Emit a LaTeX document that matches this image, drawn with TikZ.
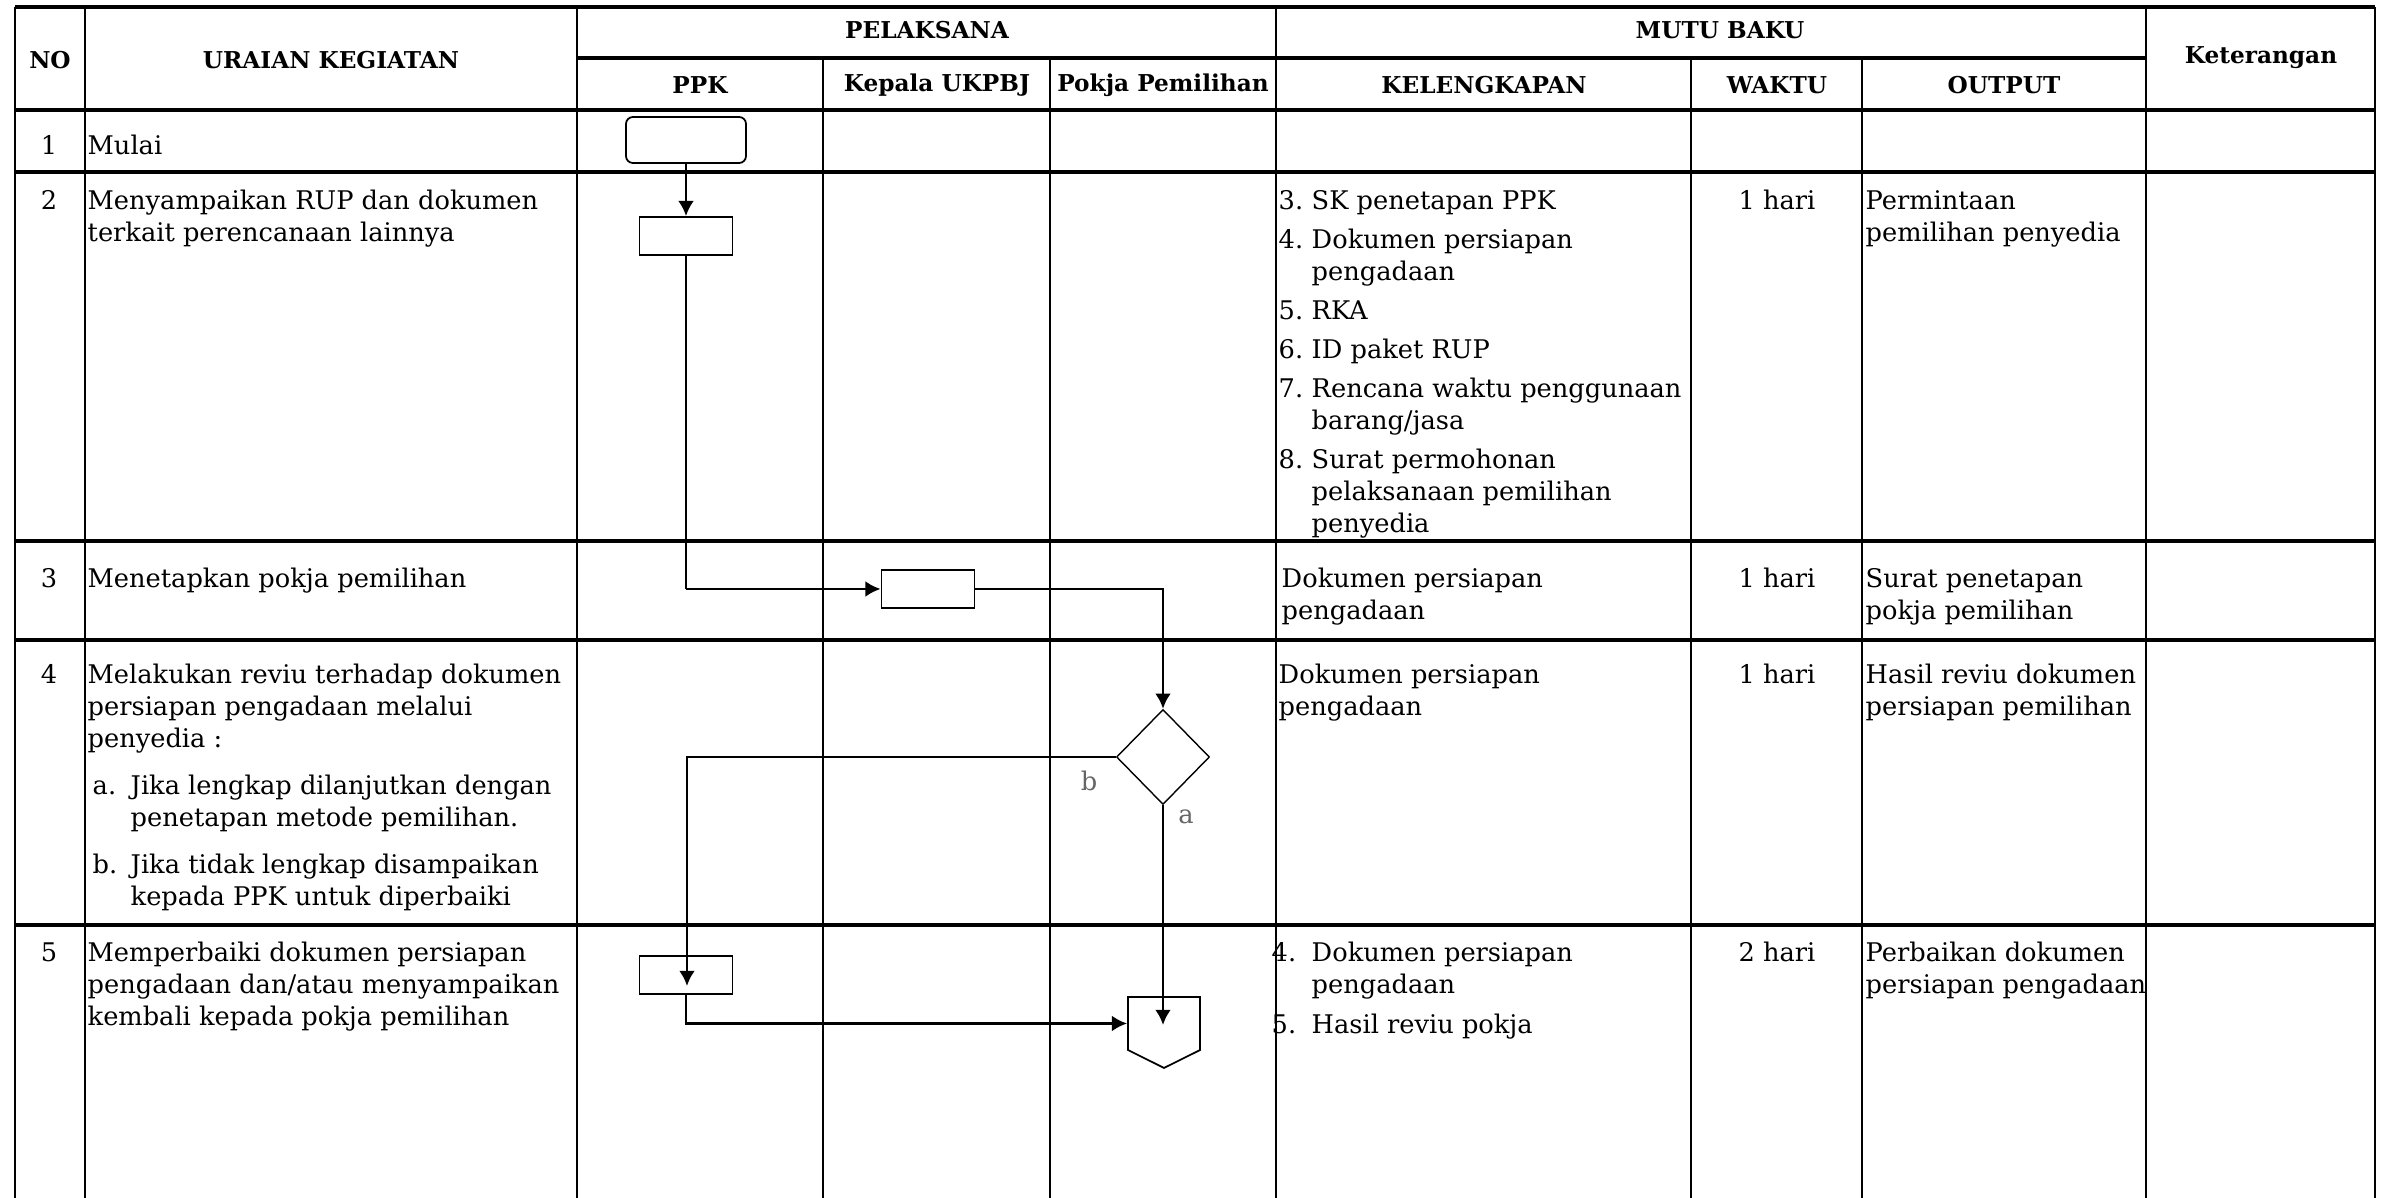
\documentclass[tikz,border=0pt]{standalone}
\usepackage{fontspec}
\setmainfont{DejaVu Serif}
\usetikzlibrary{shapes.geometric, shapes.symbols, arrows.meta}
\newcommand{\bodyfont}{\fontsize{7.3}{9.1}\selectfont}
\newcommand{\headfont}{\fontsize{6.6}{8}\selectfont\bfseries}
\newcommand{\numbox}[2][0.33cm]{\makebox[#1][l]{#2}}
\tikzstyle{cell} = [anchor=north west, inner sep=0pt, align=left, font=\bodyfont]
\tikzstyle{cellc} = [anchor=north, inner sep=0pt, align=center, font=\bodyfont]
\tikzstyle{headcell} = [inner sep=0pt, font=\headfont]
\tikzstyle{terminal} = [rectangle, rounded corners=0.7mm, minimum width=1.2cm, minimum height=0.46cm, draw=black, line width=0.5pt]
\tikzstyle{process} = [rectangle, minimum width=0.93cm, minimum height=0.38cm, draw=black, line width=0.5pt]
\tikzstyle{decision} = [diamond, minimum width=0.93cm, minimum height=0.95cm, inner sep=0pt, draw=black, line width=0.4pt]
\tikzstyle{offpage} = [signal, signal to=south, signal pointer angle=127, minimum width=0.72cm, minimum height=0.53cm, inner sep=0pt, draw=black, line width=0.5pt]
\tikzstyle{branch} = [inner sep=0pt, font=\bodyfont, text=black!60]
\tikzstyle{arrow} = [line width=0.8pt, -{Latex[length=4.3pt,width=4.5pt]}]
\tikzstyle{flowline} = [line width=0.45pt]
\tikzstyle{rowline} = [line width=0.9pt]
\tikzstyle{colline} = [line width=0.55pt]
\begin{document}
\begin{tikzpicture}[x=0.01cm, y=-0.01cm]
\useasboundingbox (0,0) rectangle (2390,1198);
% kepala tabel
\node (hno) [headcell] at (50,60) {NO};
\node (hurai) [headcell] at (331,60) {URAIAN KEGIATAN};
\node (hpel) [headcell] at (927,30) {PELAKSANA};
\node (hppk) [headcell] at (700,85) {PPK};
\node (hkep) [headcell] at (937,85) {Kepala UKPBJ};
\node (hpokja) [headcell] at (1163,85) {Pokja Pemilihan};
\node (hmutu) [headcell] at (1720,30) {MUTU BAKU};
\node (hkel) [headcell] at (1484,85) {KELENGKAPAN};
\node (hwaktu) [headcell] at (1777,85) {WAKTU};
\node (hout) [headcell] at (2004,85) {OUTPUT};
\node (hket) [headcell] at (2261,58) {Keterangan};

% isi baris
\node (n1) [cellc] at (49,131) {\strut 1};
\node (n2) [cellc] at (49,186) {\strut 2};
\node (n3) [cellc] at (49,564) {\strut 3};
\node (n4) [cellc] at (49,660) {\strut 4};
\node (n5) [cellc] at (49,938) {\strut 5};

\node (u1) [cell] at (87,131) {\strut Mulai};
\node (u2) [cell] at (87,186) {\strut Menyampaikan RUP dan dokumen\\terkait perencanaan lainnya};
\node (u3) [cell] at (87,564) {\strut Menetapkan pokja pemilihan};
\node (u4) [cell] at (87,660) {\strut Melakukan reviu terhadap dokumen\\persiapan pengadaan melalui\\penyedia :\\[4.3pt]\hspace*{0.05cm}\numbox[0.38cm]{a.}Jika lengkap dilanjutkan dengan\\\hspace*{0.43cm}penetapan metode pemilihan.\\[4.3pt]\hspace*{0.05cm}\numbox[0.38cm]{b.}Jika tidak lengkap disampaikan\\\hspace*{0.43cm}kepada PPK untuk diperbaiki};
\node (u5) [cell] at (87,938) {\strut Memperbaiki dokumen persiapan\\pengadaan dan/atau menyampaikan\\kembali kepada pokja pemilihan};

\node (k2) [cell] at (1278,186) {\strut\numbox{3.}SK penetapan PPK\\[2pt]\numbox{4.}Dokumen persiapan\\\hspace*{0.33cm}pengadaan\\[2pt]\numbox{5.}RKA\\[2pt]\numbox{6.}ID paket RUP\\[2pt]\numbox{7.}Rencana waktu penggunaan\\\hspace*{0.33cm}barang/jasa\\[2pt]\numbox{8.}Surat permohonan\\\hspace*{0.33cm}pelaksanaan pemilihan\\\hspace*{0.33cm}penyedia};
\node (k3) [cell] at (1281,564) {\strut Dokumen persiapan\\pengadaan};
\node (k4) [cell] at (1278,660) {\strut Dokumen persiapan\\pengadaan};
\node (k5) [cell] at (1271,938) {\strut\numbox[0.4cm]{4.}Dokumen persiapan\\\hspace*{0.4cm}pengadaan\\[2.3pt]\numbox[0.4cm]{5.}Hasil reviu pokja};

\node (w2) [cellc] at (1777,186) {\strut 1 hari};
\node (w3) [cellc] at (1777,564) {\strut 1 hari};
\node (w4) [cellc] at (1777,660) {\strut 1 hari};
\node (w5) [cellc] at (1777,938) {\strut 2 hari};

\node (o2) [cell] at (1865,186) {\strut Permintaan\\pemilihan penyedia};
\node (o3) [cell] at (1865,564) {\strut Surat penetapan\\pokja pemilihan};
\node (o4) [cell] at (1865,660) {\strut Hasil reviu dokumen\\persiapan pemilihan};
\node (o5) [cell] at (1865,938) {\strut Perbaikan dokumen\\persiapan pengadaan};

% garis tabel
\draw [rowline] (15,7) -- (2375,7) (577,58) -- (2146,58) (15,110) -- (2375,110) (15,172) -- (2375,172)
  (15,541) -- (2375,541) (15,640) -- (2375,640) (15,925) -- (2375,925);
\draw [colline] (15,7) -- (15,1198) (85,7) -- (85,1198) (577,7) -- (577,1198) (1276,7) -- (1276,1198)
  (2146,7) -- (2146,1198) (2375,7) -- (2375,1198);
\draw [colline] (823,58) -- (823,1198) (1050,58) -- (1050,1198) (1691,58) -- (1691,1198) (1862,58) -- (1862,1198);

% bagan alir
\node (start) [terminal] at (686,140) {};
\node (act2) [process] at (686,236) {};
\node (act3) [process] at (928,589) {};
\node (dec4) [decision] at (1163,757) {};
\node (act5) [process] at (686,975) {};
\node (conn5) [offpage] at (1164,1023.5) {};
\node (lb) [branch] at (1089,781) {b};
\node (la) [branch] at (1186,817) {a};
\coordinate (c23) at (act2 |- act3);
\coordinate (tip5) at (687,986);
\coordinate (tip6) at (1163,1025);

\draw [arrow] (start) -- (act2);
\draw [flowline] (act2) -- (c23);
\draw [arrow] (c23) -- (act3);
\draw [arrow] (act3) -| (dec4);
\draw [arrow] (dec4) -| (tip5);
\draw [arrow] (dec4) -- (tip6);
\draw [arrow] (act5) |- (conn5);
\end{tikzpicture}
\end{document}
